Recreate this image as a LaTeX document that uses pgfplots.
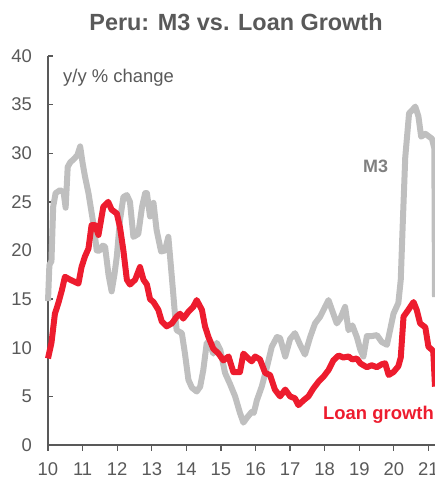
\documentclass[border=0pt]{standalone}
\usepackage{fontspec}
\setmainfont{Liberation Sans}
\usepackage{pgfplots}
\pgfplotsset{compat=1.18}
\definecolor{txtgray}{HTML}{595959}
\definecolor{mgray}{HTML}{BFBFBF}
\definecolor{lblgray}{HTML}{808080}
\definecolor{loanred}{RGB}{237,28,46}
\begin{document}
\begin{tikzpicture}
\begin{axis}[
  at={(0,0)}, anchor=south west,
  scale only axis, width=387bp, height=389bp,
  xmin=10, xmax=21.19, ymin=0, ymax=40,
  axis lines=left,
  axis line style={txtgray, line width=1.3bp, -},
  xtick={10,...,21}, ytick={0,5,...,40},
  x tick style={txtgray, line width=1.3bp},
  y tick style={txtgray, line width=1.3bp},
  xtick align=outside, ytick align=inside,
  major tick length=5.5bp,
  /pgf/number format/assume math mode=true,
  ticklabel style={font=\fontsize{18.5}{20}\selectfont, text=txtgray, inner sep=0pt},
  xticklabel style={anchor=north, yshift=-12bp},
  yticklabel style={anchor=east, xshift=-16bp},
  clip=false,
]
\addplot[mgray, line width=6bp, line join=round] coordinates {
(10.00,14.8)(10.04,18.5)(10.10,18.9)(10.15,24.5)(10.22,25.9)(10.35,26.2)(10.45,26.0)
(10.51,24.4)(10.57,28.6)(10.65,29.1)(10.72,29.3)(10.85,29.8)(10.93,30.7)(11.00,29.0)
(11.07,27.6)(11.17,25.9)(11.31,22.8)(11.41,20.0)(11.50,20.0)(11.58,20.5)(11.65,20.4)
(11.75,17.5)(11.84,15.8)(11.92,17.5)(11.99,19.4)(12.08,23.1)(12.18,25.5)(12.28,25.7)
(12.37,25.0)(12.47,21.4)(12.61,21.7)(12.72,24.5)(12.81,25.9)(12.86,25.9)(12.95,23.5)
(13.05,24.9)(13.14,22.1)(13.27,19.9)(13.38,20.0)(13.48,21.4)(13.58,17.3)(13.67,13.5)
(13.72,11.8)(13.87,11.5)(13.96,9.4)(14.06,6.7)(14.16,5.9)(14.30,5.5)(14.40,6.0)
(14.49,7.7)(14.59,10.5)(14.69,10.2)(14.78,9.4)(14.88,10.5)(14.98,9.8)(15.12,7.4)
(15.26,6.3)(15.41,5.0)(15.55,3.3)(15.65,2.3)(15.75,2.8)(15.89,3.4)(15.95,3.3)
(16.04,4.6)(16.18,6.0)(16.33,8.0)(16.47,10.1)(16.62,11.1)(16.71,11.0)(16.86,9.1)
(17.00,10.9)(17.14,11.5)(17.29,10.3)(17.43,9.3)(17.58,11.1)(17.72,12.5)(17.87,13.2)
(18.01,14.2)(18.11,14.9)(18.25,13.5)(18.35,12.5)(18.45,13.0)(18.59,14.2)(18.69,11.8)
(18.80,12.3)(18.93,11.1)(19.03,9.8)(19.12,9.1)(19.22,11.2)(19.36,11.2)(19.51,11.3)
(19.65,10.6)(19.80,10.3)(19.89,11.8)(19.99,13.5)(20.13,14.6)(20.20,17.0)(20.26,23.0)
(20.33,29.6)(20.44,34.1)(20.55,34.5)(20.62,34.8)(20.71,33.8)(20.79,31.7)(20.91,32.0)
(21.10,31.5)(21.17,30.5)(21.19,15.2)
};
\addplot[loanred, line width=6bp, line join=round] coordinates {
(10.00,8.9)(10.10,10.5)(10.20,13.5)(10.30,14.6)(10.40,15.9)(10.49,17.3)(10.64,17.0)
(10.88,16.6)(10.97,18.3)(11.07,19.4)(11.17,20.2)(11.26,22.6)(11.36,22.6)(11.46,21.6)
(11.60,24.5)(11.74,25.0)(11.84,24.2)(11.99,23.8)(12.08,22.4)(12.18,20.0)(12.28,17.0)
(12.37,16.5)(12.52,17.0)(12.66,18.3)(12.76,17.0)(12.86,16.5)(12.95,15.0)(13.05,14.7)
(13.19,13.9)(13.29,12.7)(13.43,12.2)(13.58,12.5)(13.72,13.2)(13.82,13.5)(13.91,13.0)
(14.06,13.7)(14.20,14.2)(14.30,14.9)(14.45,13.9)(14.54,12.2)(14.64,11.1)(14.78,9.9)
(14.93,9.4)(15.07,8.7)(15.22,9.1)(15.36,7.5)(15.55,7.5)(15.65,9.4)(15.79,8.9)
(15.89,8.6)(15.99,9.1)(16.13,8.8)(16.28,7.4)(16.42,7.2)(16.56,5.7)(16.71,5.0)
(16.86,5.7)(17.00,5.0)(17.14,4.8)(17.24,4.1)(17.39,4.6)(17.53,5.0)(17.67,5.8)
(17.82,6.5)(17.96,7.0)(18.11,7.7)(18.25,8.7)(18.40,9.2)(18.54,9.0)(18.69,9.1)
(18.80,8.8)(18.93,8.9)(19.03,8.4)(19.12,8.2)(19.22,8.0)(19.36,8.2)(19.51,8.0)
(19.65,8.3)(19.75,8.4)(19.85,7.2)(19.99,7.5)(20.13,8.1)(20.20,9.0)(20.28,13.2)
(20.42,13.9)(20.57,14.7)(20.66,13.9)(20.76,12.5)(20.91,12.1)(21.00,10.1)(21.10,9.8)
(21.14,9.6)(21.19,6.0)
};
\end{axis}
\node[anchor=base, inner sep=0pt, text=txtgray, font=\fontsize{23.5}{26}\selectfont\bfseries] at (188bp,414.3bp) {Peru: M3 vs. Loan Growth};
\node[anchor=base west, inner sep=0pt, text=txtgray, font=\fontsize{18.5}{20}\selectfont] at (15bp,362.3bp) {y/y \% change};
\node[anchor=base west, inner sep=0pt, text=lblgray, font=\fontsize{18}{20}\selectfont\bfseries] at (315bp,272.7bp) {M3};
\node[anchor=base west, inner sep=0pt, text=loanred, font=\fontsize{18.5}{20}\selectfont\bfseries] at (275bp,25.7bp) {Loan growth};
\pgfresetboundingbox
\useasboundingbox (-48bp,-35bp) rectangle (387bp,445bp);
\end{tikzpicture}
\end{document}
